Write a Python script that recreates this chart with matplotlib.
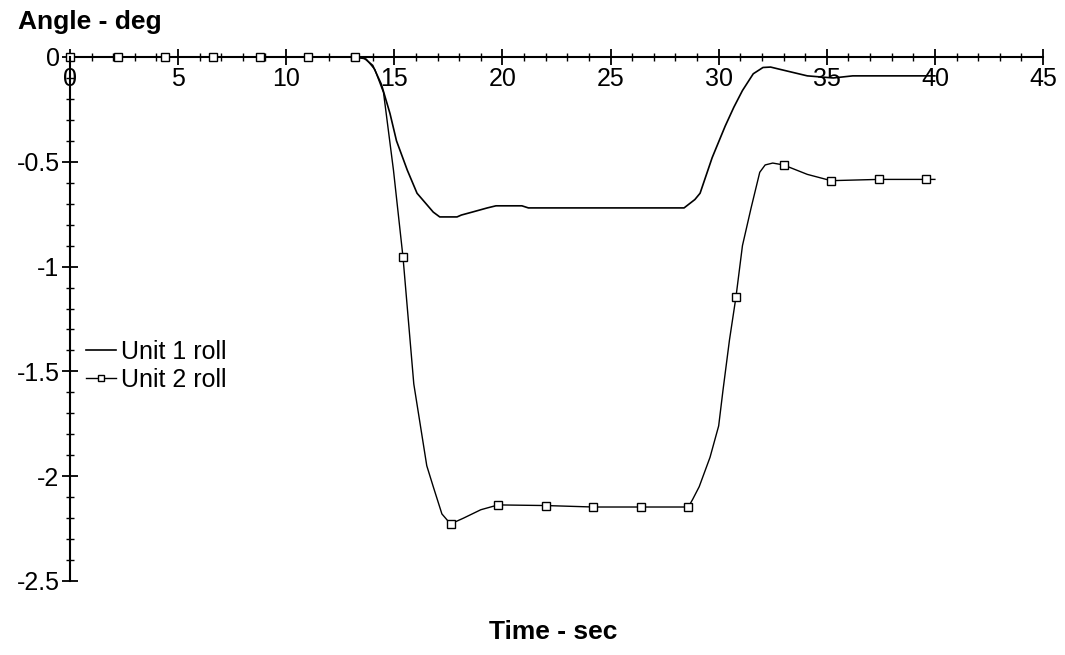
import matplotlib
matplotlib.use('Agg')
import matplotlib.pyplot as plt
from matplotlib.ticker import MultipleLocator, FuncFormatter

plt.rcParams['font.family'] = ['Liberation Sans', 'DejaVu Sans']
plt.rcParams['axes.unicode_minus'] = False

# roll angle of unit 1 (deg) against time (sec)
unit1_time = [0, 13.0, 13.6, 14.0, 14.4, 14.8, 15.1, 15.6, 16.05, 16.3, 16.8, 17.1, 17.9,
              18.1, 18.6, 19.3, 19.7, 20.9, 21.2, 28.4, 28.9, 29.14, 29.7, 30.3, 30.7,
              31.1, 31.6, 32.05, 32.4, 32.8, 34.1, 35.3, 36.2, 40.0]
unit1_roll = [0, 0, -0.005, -0.04, -0.13, -0.27, -0.40, -0.54, -0.65, -0.68, -0.74, -0.763,
              -0.763, -0.754, -0.74, -0.72, -0.71, -0.71, -0.72, -0.72, -0.68, -0.65, -0.48,
              -0.33, -0.24, -0.16, -0.08, -0.05, -0.048, -0.058, -0.09, -0.10, -0.09, -0.09]

# roll angle of unit 2, the sampled points get a square marker
unit2_time = [0, 2.2, 4.4, 6.6, 8.8, 11.0, 13.2, 13.7, 14.1, 14.5, 14.96, 15.4, 15.9, 16.5,
              16.8, 17.2, 17.6, 18.2, 19.0, 19.8, 22.0, 24.2, 26.4, 28.6, 28.8, 29.1, 29.6,
              30.0, 30.2, 30.5, 30.8, 31.1, 31.5, 31.9, 32.15, 32.5, 33.0, 34.1, 35.2, 37.4,
              39.6, 40.0]
unit2_roll = [0, 0, 0, 0, 0, 0, 0, -0.01, -0.06, -0.17, -0.54, -0.954, -1.56, -1.95, -2.05,
              -2.18, -2.228, -2.20, -2.16, -2.137, -2.14, -2.147, -2.147, -2.147, -2.11, -2.05,
              -1.91, -1.76, -1.59, -1.35, -1.145, -0.90, -0.72, -0.55, -0.515, -0.506, -0.515,
              -0.56, -0.59, -0.584, -0.584, -0.584]
unit2_marks = [0, 2.2, 4.4, 6.6, 8.8, 11.0, 13.2, 15.4, 17.6, 19.8, 22.0, 24.2, 26.4, 28.6,
               30.8, 33.0, 35.2, 37.4, 39.6]

fig = plt.figure(figsize=(10.65, 6.55), dpi=100)
ax = fig.add_axes([70 / 1065, 1 - 581 / 655, 973 / 1065, 524 / 655])

ax.plot(unit1_time, unit1_roll, color='black', lw=1.2, clip_on=False, label='Unit 1 roll')
mark_idx = [unit2_time.index(t) for t in unit2_marks]
ax.plot(unit2_time, unit2_roll, color='black', lw=1.0, marker='s', markersize=6,
        markerfacecolor='white', markeredgecolor='black', markeredgewidth=1.0,
        markevery=mark_idx, clip_on=False, label='Unit 2 roll')

ax.set_xlim(0, 45)
ax.set_ylim(-2.5, 0)

# axes cross at the origin, x axis along the top
ax.spines['top'].set_visible(False)
ax.spines['right'].set_visible(False)
ax.spines['bottom'].set_position(('data', 0))
ax.spines['left'].set_position(('data', 0))
ax.spines['bottom'].set_linewidth(1.5)
ax.spines['left'].set_linewidth(1.5)
ax.spines['bottom'].set_zorder(0)

ax.xaxis.set_major_locator(MultipleLocator(5))
ax.xaxis.set_minor_locator(MultipleLocator(1))
ax.yaxis.set_major_locator(MultipleLocator(0.5))
ax.yaxis.set_minor_locator(MultipleLocator(0.1))
ax.yaxis.set_major_formatter(FuncFormatter(lambda v, p: '%g' % v))
ax.xaxis.set_major_formatter(FuncFormatter(lambda v, p: '%g' % v))

ax.tick_params(which='major', direction='inout', length=11, width=1.3, labelsize=18, pad=2)
ax.tick_params(which='minor', direction='inout', length=6, width=1.0)

ax.legend(loc='upper left', bbox_to_anchor=(0.016, 0.46), frameon=False, fontsize=18,
          handlelength=1.2, handletextpad=0.2, labelspacing=0.15, borderpad=0,
          borderaxespad=0, markerscale=0.7)

fig.text(18 / 1065, 1 - 22 / 655, 'Angle - deg', fontsize=19, fontweight='bold',
         va='center', ha='left')
fig.text(553 / 1065, 1 - 632 / 655, 'Time - sec', fontsize=19, fontweight='bold',
         va='center', ha='center')

fig.savefig('out.png', dpi=100)
